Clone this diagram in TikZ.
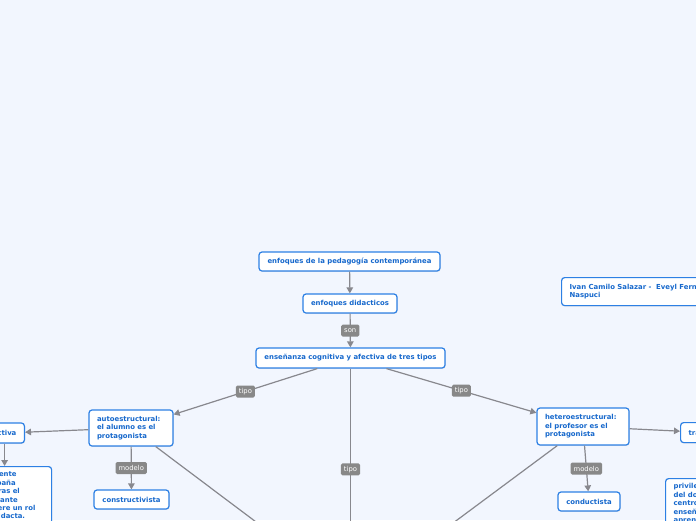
\documentclass[tikz,border=0pt]{standalone}
\usepackage{fontspec}
\setmainfont{DejaVu Sans}
\usetikzlibrary{arrows.meta,shadows}
\definecolor{bgcol}{RGB}{242,246,254}
\definecolor{boxblue}{RGB}{45,128,228}
\definecolor{txtblue}{RGB}{22,104,204}
\definecolor{lineg}{RGB}{136,136,142}
\definecolor{lblg}{RGB}{136,136,136}
\begin{document}
\begin{tikzpicture}[x=1pt,y=-1pt,
  box/.style={draw=boxblue, line width=1.2pt, fill=white, rounded corners=3pt,
    font=\fontsize{6.9}{8.4}\selectfont\bfseries, text=txtblue,
    inner xsep=8pt, inner ysep=0pt,
    drop shadow={opacity=0.18, shadow xshift=0.6pt, shadow yshift=-0.9pt}},
  conn/.style={draw=lineg, line width=1.2pt},
  arr/.style={conn, -{Triangle[length=6pt,width=6.5pt]}},
  lbl/.style={fill=lblg, text=white, rounded corners=1.5pt,
    font=\fontsize{6.8}{8}\selectfont, inner xsep=3pt, inner ysep=0pt,
    minimum height=12pt}
]
\useasboundingbox (0,0) rectangle (696,520);
\clip (0,0) rectangle (696,520);
\fill[bgcol] (0,0) rectangle (696,520);

% nodes
\node[box, minimum width=181pt, minimum height=19pt] (n1) at (349.5,261.5) {enfoques de la pedagogía contemporánea};
\node[box, minimum width=94pt, minimum height=19pt] (n2) at (350,303.5) {enfoques didacticos};
\node[box, minimum width=189pt, minimum height=20pt] (n3) at (350.5,358) {enseñanza cognitiva y afectiva de tres tipos};
\node[box, anchor=north west, minimum height=28pt, align=left] (ivan) at (561,277) {Ivan Camilo Salazar - \ Eveyl Fernanda\\Naspuci};
\node[box, minimum width=84pt, minimum height=36pt, text width=68pt, align=left] (auto) at (131,428) {autoestructural:\\el alumno es el\\protagonista};
\node[box, minimum width=92pt, minimum height=37pt, text width=76pt, align=left] (hetero) at (583,426.5) {heteroestructural:\\el profesor es el\\protagonista};
\node[box, minimum width=75pt, minimum height=19pt] (constr) at (131.5,499.5) {constructivista};
\node[box, minimum width=62pt, minimum height=19pt] (conduc) at (589,501.5) {conductista};
\node[box, anchor=east, minimum height=20pt] (activa) at (25,433) {activa};
\node[box, anchor=north west, minimum width=83.7pt, text width=67.7pt, align=left, inner ysep=5pt] (ldesc) at (-32.7,466) {El docente\\acompaña\\mientras el\\estudiante\\adquiere un rol\\autodidacta.};
\node[box, anchor=north west, minimum height=20pt] (trad) at (680,422) {tradicional};
\node[box, anchor=north west, text width=74pt, align=left, inner ysep=5pt] (rdesc) at (665,478) {privilegia el rol\\del docente como\\centro de la\\enseñanza y el\\aprendizaje};

% free ends of connectors leaving the picture
\coordinate (down1) at (350.5,570);
\coordinate (down2) at (300,555);
\coordinate (down3) at (410,555);

% connectors
\draw[arr] (n1) -- (n2);
\draw[arr] (n2) -- node[lbl] (l1) {son} (n3);
\draw[arr] (n3) -- node[lbl] (l2) {tipo} (auto);
\draw[arr] (n3) -- node[lbl] (l3) {tipo} (hetero);
\draw[conn] (n3) -- node[lbl] (l4) {tipo} (down1);
\draw[conn] (auto) -- (down2);
\draw[conn] (hetero) -- (down3);
\draw[arr] (auto) -- node[lbl] (l5) {modelo} (constr);
\draw[arr] (hetero) -- node[lbl] (l6) {modelo} (conduc);
\draw[arr] (auto) -- (activa);
\draw[arr] (activa.south) -- (activa.south |- ldesc.north);
\draw[arr] (hetero) -- (trad);
\end{tikzpicture}
\end{document}
